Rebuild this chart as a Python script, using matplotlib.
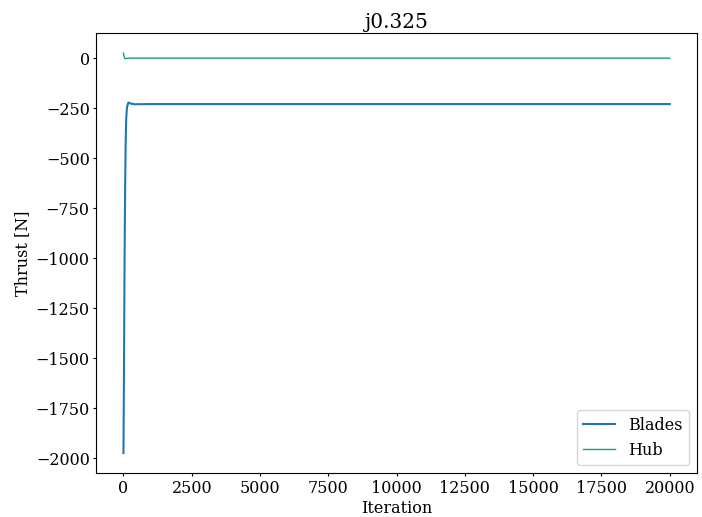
import matplotlib
matplotlib.use("Agg")
import matplotlib.pyplot as plt

# 读图估计的数据
blade_iter = [0, 20, 40, 60, 80, 100, 130, 180, 250, 400, 1000, 5000, 20000]
blade_thrust = [-1975, -1500, -1000, -650, -420, -300, -245, -222, -227, -231, -230, -230, -230]
hub_iter = [0, 20, 40, 60, 100, 200, 500, 20000]
hub_thrust = [25, 10, 0, -3, -2, 0, 0, 0]

plt.rcParams['font.family'] = 'DejaVu Serif'
plt.rcParams['font.size'] = 11.5
plt.rcParams['xtick.major.size'] = 2.2
plt.rcParams['ytick.major.size'] = 2.2
plt.rcParams['xtick.major.pad'] = 2.5
plt.rcParams['ytick.major.pad'] = 2.5

fig = plt.figure(figsize=(7.02, 5.17), dpi=100)
ax = fig.add_axes([0.137, 0.085, 0.856, 0.851])
ax.plot(blade_iter, blade_thrust, color='#1f77b4', lw=1.5, label='Blades')
ax.plot(hub_iter, hub_thrust, color='#16a07a', lw=1.0, label='Hub')
ax.set_title('j0.325', fontsize=14.5, pad=4)
ax.set_xlabel('Iteration', labelpad=2.5)
ax.set_ylabel('Thrust [N]', labelpad=3)
ax.legend(loc='lower right', fontsize=11.5)
fig.savefig('out.png', dpi=100)
